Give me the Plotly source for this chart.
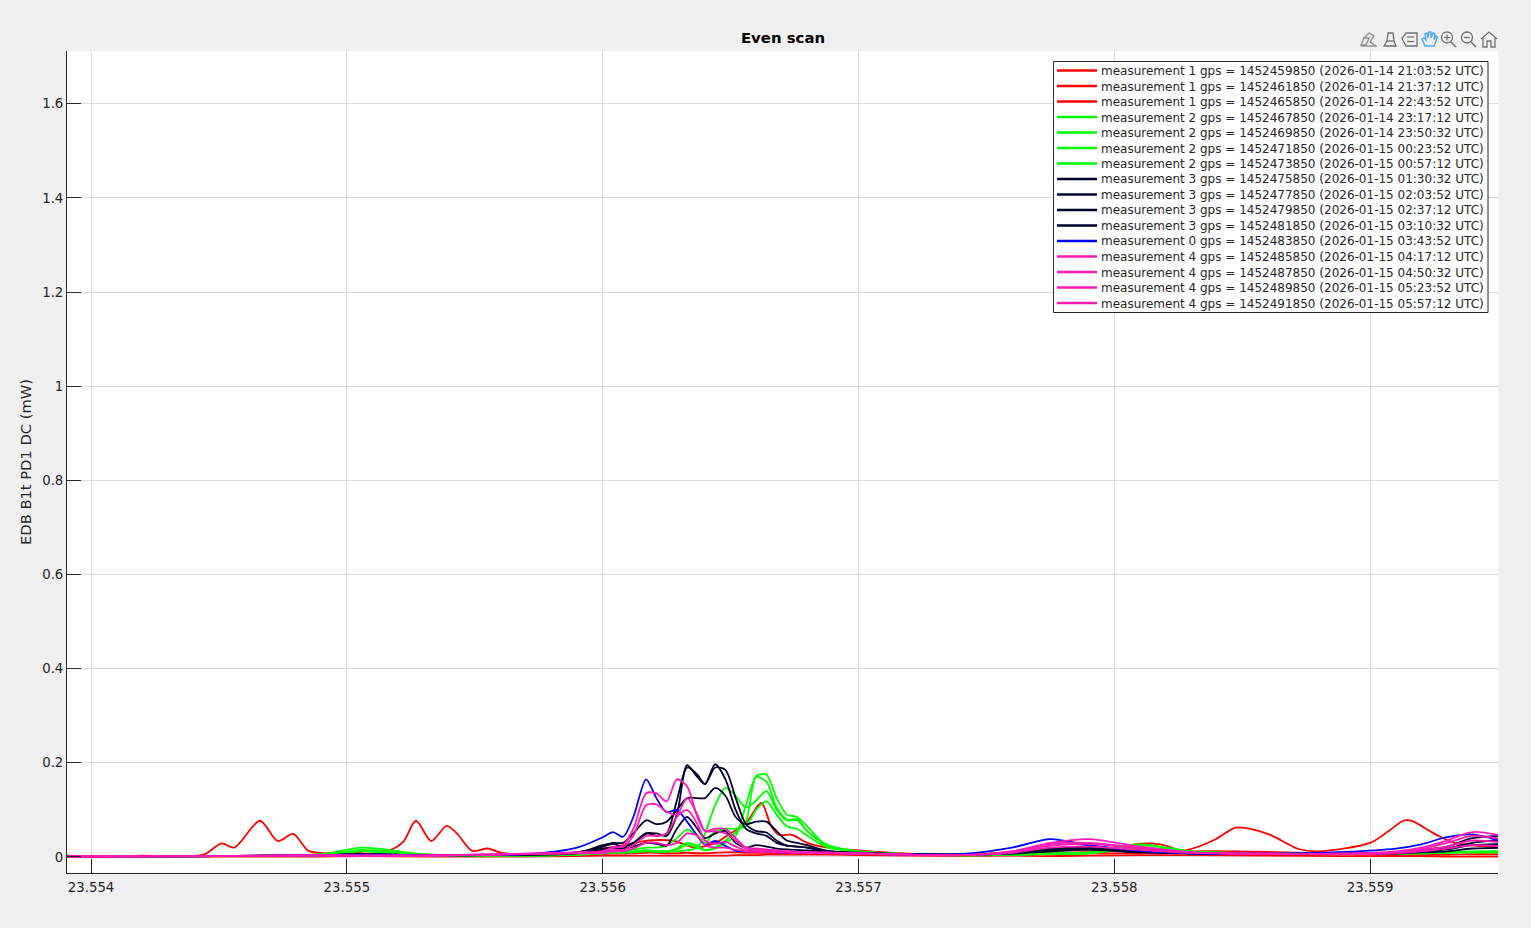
import plotly.graph_objects as go

TITLE = "Even scan"
Y_LABEL = "EDB B1t PD1 DC (mW)"
X_TICKS = [23.554, 23.555, 23.556, 23.557, 23.558, 23.559]
X_TICK_TEXT = ["23.554", "23.555", "23.556", "23.557", "23.558", "23.559"]
Y_TICKS = [0, 0.2, 0.4, 0.6, 0.8, 1.0, 1.2, 1.4, 1.6]
Y_TICK_TEXT = ["0", "0.2", "0.4", "0.6", "0.8", "1", "1.2", "1.4", "1.6"]

LABELS = [
    "measurement 1 gps = 1452459850 (2026-01-14 21:03:52 UTC)",
    "measurement 1 gps = 1452461850 (2026-01-14 21:37:12 UTC)",
    "measurement 1 gps = 1452465850 (2026-01-14 22:43:52 UTC)",
    "measurement 2 gps = 1452467850 (2026-01-14 23:17:12 UTC)",
    "measurement 2 gps = 1452469850 (2026-01-14 23:50:32 UTC)",
    "measurement 2 gps = 1452471850 (2026-01-15 00:23:52 UTC)",
    "measurement 2 gps = 1452473850 (2026-01-15 00:57:12 UTC)",
    "measurement 3 gps = 1452475850 (2026-01-15 01:30:32 UTC)",
    "measurement 3 gps = 1452477850 (2026-01-15 02:03:52 UTC)",
    "measurement 3 gps = 1452479850 (2026-01-15 02:37:12 UTC)",
    "measurement 3 gps = 1452481850 (2026-01-15 03:10:32 UTC)",
    "measurement 0 gps = 1452483850 (2026-01-15 03:43:52 UTC)",
    "measurement 4 gps = 1452485850 (2026-01-15 04:17:12 UTC)",
    "measurement 4 gps = 1452487850 (2026-01-15 04:50:32 UTC)",
    "measurement 4 gps = 1452489850 (2026-01-15 05:23:52 UTC)",
    "measurement 4 gps = 1452491850 (2026-01-15 05:57:12 UTC)",
]
RED, GREEN, NAVY, BLUE, PINK = "#ff0000", "#00ff00", "#00002e", "#0000ff", "#ff1ab3"
COLORS = [RED] * 3 + [GREEN] * 4 + [NAVY] * 4 + [BLUE] + [PINK] * 4

# wavelength grid of the first trace, which has its own finer features
X_R1 = [23.5539, 23.55395, 23.5542, 23.55444, 23.55451, 23.55456, 23.55466, 23.55473, 23.55479, 23.55485, 23.55492,
        23.55499, 23.55507, 23.55516, 23.55522, 23.55527, 23.55533, 23.55539, 23.55543, 23.55549, 23.55555,
        23.55561, 23.55575, 23.5559, 23.55605, 23.55618, 23.55628, 23.55636, 23.55644, 23.5565, 23.55656,
        23.55662, 23.55666, 23.55669, 23.55674, 23.5568, 23.55688, 23.557, 23.5572, 23.5574, 23.5576,
        23.5578, 23.558, 23.55808, 23.55818, 23.55827, 23.55839, 23.55847, 23.55851, 23.55861, 23.55872,
        23.5588, 23.559, 23.55907, 23.55913, 23.55916, 23.55926, 23.55933, 23.55951, 23.5596]
Y_R1 = [0.004, 0.001, 0.003, 0.005, 0.029, 0.02, 0.077, 0.034, 0.049, 0.013, 0.008,
        0.007, 0.012, 0.013, 0.032, 0.077, 0.034, 0.066, 0.05, 0.013, 0.018,
        0.008, 0.006, 0.01, 0.022, 0.035, 0.034, 0.02, 0.03, 0.05, 0.072,
        0.115, 0.064, 0.047, 0.047, 0.03, 0.02, 0.014, 0.007, 0.005, 0.005,
        0.009, 0.014, 0.027, 0.027, 0.014, 0.036, 0.062, 0.062, 0.047, 0.017,
        0.012, 0.03, 0.054, 0.077, 0.077, 0.047, 0.03, 0.02, 0.018]

# shared wavelength grid of all the other traces
X = [23.5539, 23.5545, 23.5549, 23.55506, 23.5553, 23.5557, 23.5559,
     23.556, 23.55604, 23.55608, 23.55612, 23.55617, 23.55621, 23.55625, 23.55629, 23.55633, 23.55637, 23.5564,
     23.55644, 23.55648, 23.55652, 23.55656, 23.5566, 23.55664, 23.55668, 23.55672, 23.55676, 23.5568,
     23.55688, 23.557, 23.5572, 23.5574, 23.5576, 23.55775, 23.5579, 23.5581, 23.5583, 23.5586, 23.5589,
     23.5591, 23.5592, 23.5593, 23.5594, 23.5596]

Y_R2 = [.001, .001, .001, .002, .001, .001, .002,
        .003, .003, .003, .003, .003, .003, .003, .003, .003, .003, .003, .003, .003, .004, .004, .004, .005, .005, .005, .005, .005,
        .005, .004, .003, .002, .003, .002, .003, .004, .004, .003, .002, .002, .002, .001, .001, .001]
Y_R3 = [.001, .002, .003, .006, .003, .004, .006,
        .006, .007, .007, .008, .009, .009, .008, .008, .009, .008, .008, .009, .01, .01, .009, .009, .009, .008, .008, .008, .008,
        .007, .007, .005, .004, .007, .009, .008, .008, .012, .011, .006, .004, .004, .005, .006, .006]
Y_G1 = [.001, .002, .006, .02, .006, .004, .006,
        .008, .01, .01, .012, .014, .012, .012, .018, .03, .024, .015, .02, .035, .052, .075, .172, .175, .125, .09, .085, .065,
        .022, .012, .006, .004, .006, .008, .01, .025, .012, .008, .007, .008, .009, .01, .012, .012]
Y_G2 = [.001, .002, .005, .015, .005, .003, .005,
        .007, .009, .009, .01, .012, .011, .011, .016, .025, .02, .014, .018, .03, .045, .11, .17, .16, .105, .08, .08, .055,
        .024, .012, .006, .004, .005, .007, .009, .027, .012, .008, .007, .008, .009, .01, .011, .011]
Y_G3 = [.001, .002, .004, .012, .005, .003, .005,
        .01, .012, .013, .016, .02, .02, .024, .04, .058, .045, .03, .055, .06, .06, .065, .10, .118, .09, .065, .06, .045,
        .02, .011, .006, .003, .005, .006, .008, .02, .011, .008, .006, .007, .008, .009, .01, .01]
Y_G4 = [.001, .002, .003, .006, .003, .003, .005,
        .008, .01, .01, .012, .014, .012, .012, .012, .014, .02, .05, .11, .147, .13, .105, .12, .14, .10, .078, .078, .055,
        .026, .012, .006, .004, .005, .006, .008, .018, .01, .008, .006, .007, .008, .009, .01, .01]
Y_N1 = [.001, .002, .004, .006, .004, .005, .01,
        .018, .02, .018, .025, .05, .05, .045, .09, .195, .17, .155, .197, .165, .10, .06, .05, .045, .03, .024, .022, .02,
        .012, .009, .006, .005, .01, .018, .02, .012, .008, .007, .007, .01, .015, .022, .04, .047]
Y_N2 = [.001, .002, .004, .006, .004, .005, .01,
        .022, .028, .022, .03, .05, .045, .05, .12, .19, .175, .155, .19, .185, .125, .07, .055, .052, .035, .024, .022, .02,
        .012, .009, .006, .005, .009, .016, .023, .012, .008, .007, .007, .009, .013, .018, .03, .04]
Y_N3 = [.001, .002, .004, .005, .004, .005, .009,
        .025, .03, .03, .05, .078, .07, .075, .10, .125, .125, .125, .147, .13, .085, .07, .075, .075, .055, .035, .03, .025,
        .013, .008, .006, .005, .008, .014, .018, .012, .008, .007, .007, .008, .012, .016, .025, .028]
Y_N4 = [.001, .002, .003, .005, .004, .005, .008,
        .015, .02, .018, .022, .03, .028, .024, .06, .085, .06, .04, .05, .055, .03, .02, .025, .022, .018, .016, .015, .014,
        .011, .008, .006, .005, .007, .012, .015, .01, .008, .007, .006, .007, .01, .012, .018, .02]
Y_B0 = [.001, .002, .004, .005, .004, .006, .02,
        .042, .053, .043, .085, .165, .125, .095, .10, .075, .045, .026, .034, .024, .013, .012, .013, .012, .01, .01, .01, .01,
        .009, .007, .005, .006, .02, .038, .025, .013, .008, .007, .011, .018, .027, .042, .048, .018]
Y_P1 = [.001, .002, .004, .003, .003, .007, .01,
        .012, .02, .025, .06, .135, .135, .118, .165, .15, .085, .055, .06, .06, .04, .02, .018, .016, .014, .012, .011, .01,
        .009, .008, .005, .004, .012, .03, .038, .022, .01, .007, .007, .012, .02, .035, .053, .035]
Y_P2 = [.001, .002, .004, .003, .003, .007, .009,
        .012, .02, .022, .045, .11, .112, .096, .09, .125, .09, .055, .055, .05, .035, .018, .016, .015, .013, .012, .011, .01,
        .009, .007, .005, .004, .012, .028, .03, .02, .01, .007, .007, .01, .017, .03, .045, .03]
Y_P3 = [.001, .002, .003, .003, .003, .006, .009,
        .01, .015, .015, .025, .045, .045, .05, .085, .1, .07, .035, .028, .032, .022, .014, .014, .013, .012, .011, .01, .01,
        .009, .007, .005, .004, .01, .024, .028, .018, .01, .007, .007, .009, .014, .022, .035, .025]
Y_P4 = [.001, .002, .003, .003, .003, .006, .008,
        .008, .012, .012, .018, .03, .03, .025, .03, .05, .045, .025, .02, .02, .015, .012, .011, .011, .01, .01, .009, .009,
        .008, .007, .005, .004, .009, .02, .022, .015, .009, .007, .006, .008, .012, .018, .025, .02]

SERIES = [(X_R1, Y_R1), (X, Y_R2), (X, Y_R3), (X, Y_G1), (X, Y_G2), (X, Y_G3), (X, Y_G4),
          (X, Y_N1), (X, Y_N2), (X, Y_N3), (X, Y_N4), (X, Y_B0), (X, Y_P1), (X, Y_P2), (X, Y_P3), (X, Y_P4)]

W, H = 1531, 928
L, R, T, B = 67, 1498, 51, 873
FONT = "DejaVu Sans"
TEXT = "#262626"


def px(x):
    return (x - L) / (R - L)


def py(y):
    return (B - y) / (B - T)


def path(points, closed=False):
    d = "M" + " L".join(f"{px(a):.5f} {py(b):.5f}" for a, b in points)
    return d + (" Z" if closed else "")


fig = go.Figure()
for (xs, ys), name, color in zip(SERIES, LABELS, COLORS):
    fig.add_trace(go.Scatter(x=xs, y=ys, name=name, mode="lines",
                             line=dict(color=color, width=1.8, shape="spline", smoothing=0.8),
                             showlegend=False, hoverinfo="skip"))

shapes, annotations = [], []
# legend box with manually spaced rows (rows are tighter than the native legend permits)
shapes.append(dict(type="rect", xref="paper", yref="paper", x0=px(1053.5), x1=px(1488), y0=py(61.5), y1=py(312.5),
                   fillcolor="white", line=dict(color="#262626", width=1)))
for i, (name, color) in enumerate(zip(LABELS, COLORS)):
    row = 70.5 + 15.5 * i
    shapes.append(dict(type="line", xref="paper", yref="paper", x0=px(1057), x1=px(1097), y0=py(row), y1=py(row),
                       line=dict(color=color, width=2.5)))
    annotations.append(dict(text=name, xref="paper", yref="paper", x=px(1099.5), y=py(row + 0.5), xanchor="left",
                            yanchor="middle", showarrow=False, borderpad=0,
                            font=dict(family=FONT, size=12, color=TEXT)))

# toolbar glyphs
GREY = "#707070"
HAND = "#4aa8f0"


def icon(points, color=GREY, closed=False, width=1.3):
    shapes.append(dict(type="path", xref="paper", yref="paper", path=path(points, closed), line=dict(color=color, width=width)))


def ring(cx, cy, r, color=GREY):
    shapes.append(dict(type="circle", xref="paper", yref="paper", x0=px(cx - r), x1=px(cx + r), y0=py(cy + r), y1=py(cy - r),
                       line=dict(color=color, width=1.3)))


# edit arrow
icon([(1361, 45), (1364, 38), (1369, 38), (1366, 45)], "#8a8a8a", True)
icon([(1364, 38), (1369, 33), (1374, 36), (1370, 42), (1376, 46)], "#8a8a8a")
icon([(1361, 46), (1377, 46)], "#8a8a8a")
# brush
icon([(1388, 33), (1393, 33), (1394, 41), (1396, 46), (1384, 46), (1387, 41)], "#707070", True)
icon([(1387, 41), (1394, 41)], "#707070")
# legend
icon([(1402, 38.5), (1406, 33), (1417, 33), (1417, 46), (1406, 46)], GREY, True)
icon([(1407, 37), (1414, 37)])
icon([(1407, 41.5), (1414, 41.5)])
# hand
icon([(1425, 46), (1422, 39), (1424, 38), (1426, 40), (1425, 34), (1427, 33), (1428, 38), (1429, 32), (1431, 32),
      (1431, 38), (1433, 33), (1435, 34), (1434, 40), (1436, 36), (1437.5, 37), (1434, 46)], HAND, True, 1.4)
# zoom in
ring(1447, 37.5, 5.5)
icon([(1451, 42), (1456, 47)], GREY, width=1.6)
icon([(1444, 37.5), (1450, 37.5)])
icon([(1447, 34.5), (1447, 40.5)])
# zoom out
ring(1467, 37.5, 5.5)
icon([(1471, 42), (1476, 47)], GREY, width=1.6)
icon([(1464, 37.5), (1470, 37.5)])
# home
icon([(1481, 39), (1489, 32), (1497, 39)])
icon([(1483, 38), (1483, 47), (1487, 47), (1487, 41), (1491, 41), (1491, 47), (1495, 47), (1495, 38)])

fig.update_layout(
    width=W, height=H, autosize=False,
    margin=dict(l=L, r=W - R, t=T, b=H - B, pad=0),
    paper_bgcolor="#f0f0f0", plot_bgcolor="white",
    font=dict(family=FONT, size=13, color=TEXT),
    title=dict(text=f"<b>{TITLE}</b>", x=px(783), xref="paper", xanchor="center", y=1 - 38 / H, yref="container",
               yanchor="middle", font=dict(family=FONT, size=14.9, color="#000000")),
    xaxis=dict(range=[23.553906, 23.5595], tickmode="array", tickvals=X_TICKS, ticktext=X_TICK_TEXT,
               showgrid=True, gridcolor="#dcdcdc", gridwidth=1, zeroline=False, showline=True, linecolor=TEXT, linewidth=1,
               ticks="inside", ticklen=14, tickcolor=TEXT, tickwidth=1, tickfont=dict(size=13.3, color=TEXT),
               ticklabelstandoff=2),
    yaxis=dict(range=[-0.034, 1.712], tickmode="array", tickvals=Y_TICKS, ticktext=Y_TICK_TEXT,
               showgrid=True, gridcolor="#dcdcdc", gridwidth=1, zeroline=False, showline=True, linecolor=TEXT, linewidth=1,
               ticks="inside", ticklen=14, tickcolor=TEXT, tickwidth=1, tickfont=dict(size=13.3, color=TEXT),
               automargin=True,
               title=dict(text=Y_LABEL, standoff=7, font=dict(family=FONT, size=14.7, color=TEXT))),
    shapes=shapes, annotations=annotations, showlegend=False,
)

fig.write_html("out.html", config={"displayModeBar": False},
               post_script="document.body.style.margin='0';document.body.style.overflow='hidden';")
